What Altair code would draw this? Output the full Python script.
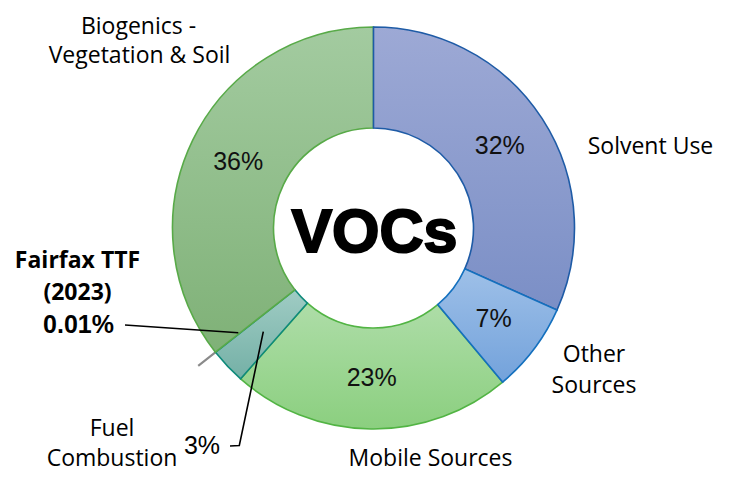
import altair as alt
import pandas as pd

# ---- slice data (clockwise from 12 o'clock) ----
categories = ["Solvent Use", "Other Sources", "Mobile Sources",
              "Fuel Combustion", "Fairfax TTF (2023)", "Biogenics - Vegetation & Soil"]
shares = [31.7, 7.2, 22.6, 2.9, 0.01, 35.6]
pct_labels = ["32%", "7%", "23%", "3%", "0.01%", "36%"]
label_inside = [True, True, True, False, False, True]

# ---- outside label text (positions relative to donut centre, px units) ----
cat_text = ["Biogenics -", "Vegetation & Soil", "Solvent Use", "Other", "Sources",
            "Mobile Sources", "Fuel", "Combustion"]
cat_x = [-235, -234, 277, 220.5, 220.5, 57, -261.5, -261.5]
cat_y = [-201.5, -172.5, -81, 127, 158, 230.5, 200.5, 230.5]

ttf_text = ["Fairfax TTF", "(2023)"]
ttf_x = [-296, -296]
ttf_y = [33, 65]

ttf_pct_text = ["0.01%"]
ttf_pct_x = [-295]
ttf_pct_y = [97]

fuel_pct_text = ["3%"]
fuel_pct_x = [-171.5]
fuel_pct_y = [218]

centre_text = ["VOCs"]

# leader lines
lead_id = ["ttf", "ttf", "fuel", "fuel", "fuel"]
lead_idx = [0, 1, 0, 1, 2]
lead_x = [-248.5, -135.2, -143.5, -134.2, -110.2]
lead_y = [97, 104.7, 218, 217.5, 103.7]

# ---- styles ----
styles = {
    "Solvent Use": ("#9DA9D5", "#7B8FC6", "#1E5BA6"),
    "Other Sources": ("#9EC0E8", "#73A2DB", "#1470BE"),
    "Mobile Sources": ("#AEDDA8", "#8BCF7F", "#52B444"),
    "Fuel Combustion": ("#A0CCC4", "#74B0A6", "#0E8A7A"),
    "Biogenics - Vegetation & Soil": ("#A3CBA0", "#7FB177", "#58AA48"),
}
draw_order = ["Mobile Sources", "Fuel Combustion", "Biogenics - Vegetation & Soil",
              "Solvent Use", "Other Sources"]

XS = alt.Scale(domain=[-365.5, 348.5], nice=False, zero=False)
YS = alt.Scale(domain=[242, -220], nice=False, zero=False)

df = pd.DataFrame({"category": categories, "share": shares, "pct": pct_labels,
                   "inside": label_inside, "order": list(range(len(categories)))})

base = (alt.Chart(df)
        .transform_window(cum="sum(share)", sort=[alt.SortField("order")], frame=[None, 0])
        .transform_joinaggregate(total="sum(share)")
        .transform_calculate(t0="2*PI*(datum.cum-datum.share)/datum.total",
                             t1="2*PI*datum.cum/datum.total",
                             tm="PI*(2*datum.cum-datum.share)/datum.total",
                             cx="0", cy="0"))

pos = dict(x=alt.X("cx:Q", scale=XS, axis=None), y=alt.Y("cy:Q", scale=YS, axis=None))
th = dict(theta=alt.Theta("t0:Q", scale=None, stack=False), theta2="t1:Q")

layers = []
# Fairfax TTF sliver (offset outward)
layers.append(base.transform_filter(alt.datum.category == "Fairfax TTF (2023)")
              .mark_arc(innerRadius=121, outerRadius=222, fill="#8a8a8a",
                        stroke="#8a8a8a", strokeWidth=2)
              .encode(**th, **pos))

for c in draw_order:
    top, bot, st = styles[c]
    grad = alt.Gradient(gradient="linear",
                        stops=[alt.GradientStop(color=top, offset=0),
                               alt.GradientStop(color=bot, offset=1)],
                        x1=0, x2=0, y1=0, y2=1)
    layers.append(base.transform_filter(alt.datum.category == c)
                  .mark_arc(innerRadius=100, outerRadius=201, fill=grad, filled=True,
                            stroke=st, strokeWidth=1.6)
                  .encode(**th, **pos))

# inside percentage labels
layers.append(base.transform_filter(alt.datum.inside)
              .mark_text(radius=150.5, font="Liberation Sans", fontSize=25, color="#111111",
                         baseline="middle", align="center")
              .encode(theta=alt.Theta("tm:Q", scale=None, stack=False), text="pct:N", **pos))

# leader lines
lead_df = pd.DataFrame({"id": lead_id, "idx": lead_idx, "x": lead_x, "y": lead_y})
layers.append(alt.Chart(lead_df).mark_line(color="#000000", strokeWidth=1.6)
              .encode(x=alt.X("x:Q", scale=XS, axis=None), y=alt.Y("y:Q", scale=YS, axis=None),
                      detail="id:N", order="idx:Q"))


def text_layer(texts, xs, ys, **kw):
    d = pd.DataFrame({"t": texts, "x": xs, "y": ys})
    return (alt.Chart(d).mark_text(align="center", baseline="middle", color="#000000", **kw)
            .encode(x=alt.X("x:Q", scale=XS, axis=None), y=alt.Y("y:Q", scale=YS, axis=None),
                    text="t:N"))


layers.append(text_layer(cat_text, cat_x, cat_y, font="Open Sans", fontSize=23))
layers.append(text_layer(ttf_text, ttf_x, ttf_y, font="Open Sans", fontSize=23, fontWeight="bold"))
layers.append(text_layer(ttf_pct_text, ttf_pct_x, ttf_pct_y, font="Liberation Sans",
                         fontSize=25, fontWeight="bold"))
layers.append(text_layer(fuel_pct_text, fuel_pct_x, fuel_pct_y, font="Liberation Sans", fontSize=25))
layers.append(text_layer(centre_text, [1], [6], font="Liberation Sans", fontSize=61,
                         fontWeight="bold", stroke="#000000", strokeWidth=2))

chart = (alt.layer(*layers)
         .properties(width=714, height=462, padding=0, background="#ffffff")
         .configure_view(stroke=None))

chart.save("out.html", embed_options={"renderer": "svg", "actions": False})
